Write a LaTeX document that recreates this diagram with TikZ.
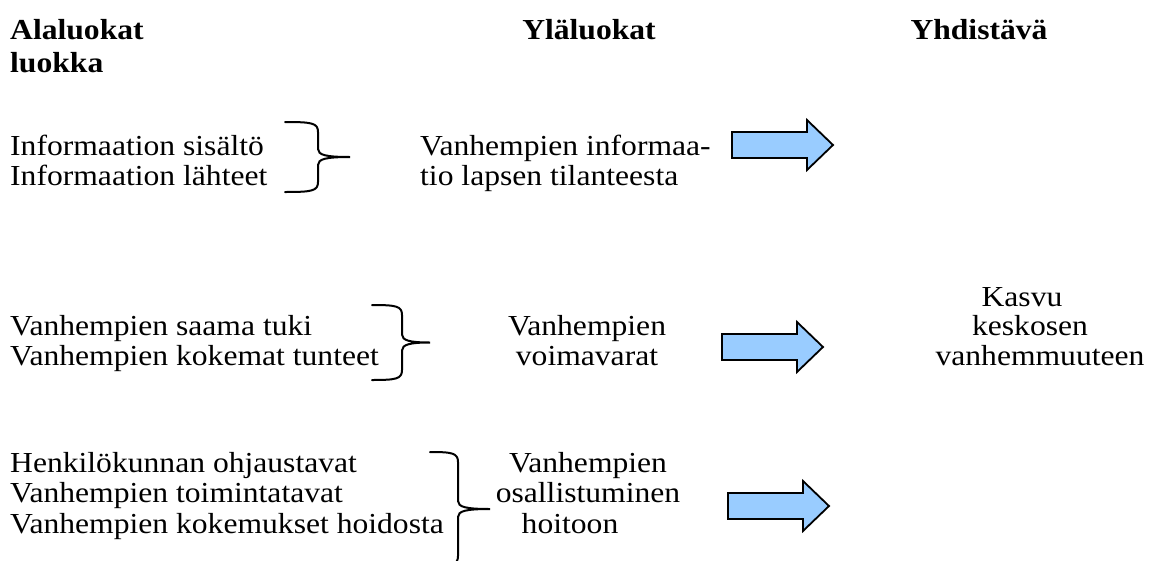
\documentclass[tikz,border=0pt]{standalone}
\usepackage{fontspec}
\setmainfont[FakeStretch=1.09]{Liberation Serif}
\definecolor{nuolisin}{HTML}{99CCFF}
\tikzset{every node/.style={font=\fontsize{29}{33}\selectfont,inner sep=0pt},
  otsikko/.style={font=\fontsize{29}{33}\selectfont\bfseries},
  sulku/.style={line width=2pt,line cap=round},
  nuoli/.style={draw=black,line width=1.8pt,fill=nuolisin,line join=miter}}
\begin{document}
\begin{tikzpicture}[x=1pt,y=-1pt]
\useasboundingbox (0,0) rectangle (1159,560);
% otsikot
\node[otsikko,anchor=base west] (ala1) at (10,39) {Alaluokat};
\node[otsikko,anchor=base west] (ala2) at (10,72) {luokka};
\node[otsikko,anchor=base] (yla) at (589,39) {Yläluokat};
\node[otsikko,anchor=base] (yhd) at (979,39) {Yhdistävä};
% alaluokat
\foreach \t/\y [count=\i] in {Informaation sisältö/155,Informaation lähteet/185,
  Vanhempien saama tuki/335,Vanhempien kokemat tunteet/365,
  Henkilökunnan ohjaustavat/472,Vanhempien toimintatavat/502,
  Vanhempien kokemukset hoidosta/533}
  \node[anchor=base west] (luok\i) at (10,\y) {\t};
% yläluokat
\node[anchor=base west] (info1) at (420,155) {Vanhempien informaa-};
\node[anchor=base west] (info2) at (420,185) {tio lapsen tilanteesta};
\node[anchor=base] (voima1) at (587,335) {Vanhempien};
\node[anchor=base] (voima2) at (587,365) {voimavarat};
\node[anchor=base] (osal1) at (588,472) {Vanhempien};
\node[anchor=base] (osal2) at (588,502) {osallistuminen};
\node[anchor=base] (osal3) at (570,533) {hoitoon};
% yhdistävä
\node[anchor=base] (kasvu1) at (1022,306) {Kasvu};
\node[anchor=base] (kasvu2) at (1030,335) {keskosen};
\node[anchor=base] (kasvu3) at (1040,365) {vanhemmuuteen};
% sulut
\foreach \a/\b/\c/\t/\u in {285/318/350/122/192,372/402/430/305/380,430/458/490/452/566}{
  \pgfmathsetmacro\m{(\t+\u)/2}
  \draw[sulku] (\a,\t) .. controls (\b-6,\t) and (\b,\t+1) .. (\b,\t+10) -- (\b,\m-8)
    .. controls (\b,\m-2) and (\b+8,\m) .. (\c,\m)
    .. controls (\b+8,\m) and (\b,\m+2) .. (\b,\m+8) -- (\b,\u-10)
    .. controls (\b,\u-1) and (\b-6,\u) .. (\a,\u);
}
% nuolet
\foreach \x/\y in {732/145,722/347,728/506}
  \draw[nuoli] (\x,\y-13) -- ++(75,0) -- ++(0,-12) -- ++(26,25) -- ++(-26,25)
    -- ++(0,-12) -- ++(-75,0) -- cycle;
\end{tikzpicture}
\end{document}
